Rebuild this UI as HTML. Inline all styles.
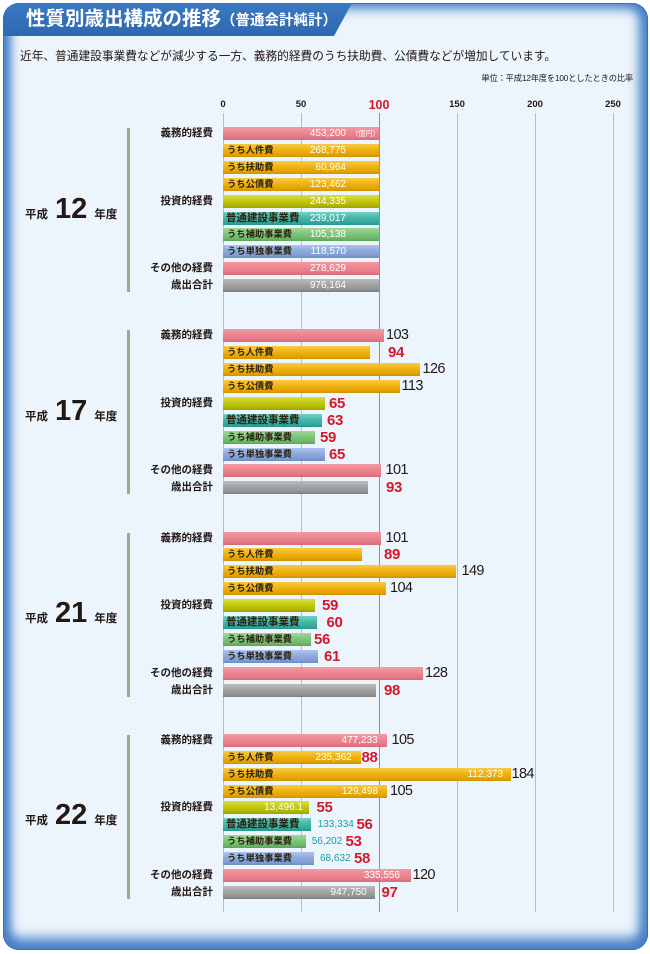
<!DOCTYPE html>
<html><head><meta charset="utf-8">
<style>
body{margin:0;width:650px;height:954px;background:#fff;position:relative;overflow:hidden;font-family:"Liberation Sans","Noto Sans CJK JP",sans-serif;}
.frame{position:absolute;left:3px;top:3px;width:645px;height:947px;border-radius:16px;background:#edf5fc;overflow:hidden;
box-shadow:inset 0 0 0 1px #3a6fb8, inset 11px 0 10px -3px #4a81c8, inset -12px 0 11px -3px #4a81c8, inset 0 -16px 13px -4px #4a81c8, inset 0 10px 12px -4px #5a8ccd;}
.tab{position:absolute;left:0;top:0;width:360px;height:33px;background:linear-gradient(#3b79c3,#2e68b0);clip-path:polygon(0 0,349px 0,331px 33px,0 33px);}
.title{position:absolute;left:26px;top:7px;line-height:24px;font-size:19.5px;font-weight:bold;color:#fff;white-space:nowrap}
.title span{font-size:14.5px}
.sub{position:absolute;left:20px;top:50px;line-height:14px;font-size:11.7px;color:#231815;white-space:nowrap}
.unit{position:absolute;right:17px;top:73px;line-height:10px;font-size:8.3px;color:#231815;white-space:nowrap;letter-spacing:-0.2px}
.ax{position:absolute;top:99px;width:40px;text-align:center;line-height:12px;font-size:9.5px;font-weight:bold;color:#231815}
.ax.red{font-size:12.5px;color:#d5182b}
.gl{position:absolute;top:113px;height:799px;width:1px;background:#b7bcc9}
.gr{position:absolute;top:113px;height:799px;width:1.5px;background:#d9707e;left:378.5px}
.G{position:absolute;left:0;width:650px;height:170px}
.r0{top:0}.r1{top:16.9px}.r2{top:33.8px}.r3{top:50.7px}.r4{top:67.6px}.r5{top:84.5px}.r6{top:101.4px}.r7{top:118.3px}.r8{top:135.2px}.r9{top:152.1px}
.b{position:absolute;left:223px;height:13px}
.p{background:linear-gradient(#f39aa5,#ec8591 45%,#e47885 80%,#d56b79)}
.o{background:linear-gradient(#f8ca45,#f0b212 45%,#e3a300 80%,#cf9200)}
.y{background:linear-gradient(#d9df45,#c3c810 45%,#b0b500 80%,#9ea200)}
.t{background:linear-gradient(#74d1c5,#45b6a8 45%,#35a89b 80%,#26958b)}
.g{background:linear-gradient(#a0d89a,#80c47b 45%,#6db769 80%,#5aa458)}
.u{background:linear-gradient(#adc4ec,#8eaadc 45%,#7f9dd2 80%,#6c8bc4)}
.k{background:linear-gradient(#bcbcbc,#a2a2a2 45%,#939393 80%,#7d7d7d)}
.ll{position:absolute;right:437px;line-height:13px;font-size:10.5px;font-weight:bold;color:#231815;white-space:nowrap}
.sl{position:absolute;left:227px;line-height:13px;font-size:9.3px;font-weight:bold;color:#2a2210;white-space:nowrap}
.sl.big{left:226px;font-size:10.5px}
.n{position:absolute;line-height:13px;font-size:14.5px;letter-spacing:-0.6px;color:#231815;white-space:nowrap}
.rd{position:absolute;line-height:13px;font-size:15px;font-weight:bold;letter-spacing:-0.4px;color:#d5182b;white-space:nowrap}
.w{position:absolute;line-height:13px;font-size:10px;color:#fff;text-align:right;white-space:nowrap}
.tv{position:absolute;line-height:13px;font-size:10px;color:#15a0a6;white-space:nowrap}
.bk{position:absolute;left:126.5px;width:3px;top:1px;height:164px;background:#a6a493}
.yr{position:absolute;left:25px;top:67.5px;display:flex;align-items:baseline;font-weight:bold;color:#231815;line-height:1;white-space:nowrap}
.yr .s{font-size:11.5px}
.yr .d{font-size:29px;margin:0 7px}
</style></head><body>
<div class="frame"><div class="tab"></div></div>
<div class="title">性質別歳出構成の推移<span>（普通会計純計）</span></div>
<div class="sub">近年、普通建設事業費などが減少する一方、義務的経費のうち扶助費、公債費などが増加しています。</div>
<div class="unit">単位：平成12年度を100としたときの比率</div>

<div class="ax" style="left:203px">0</div>
<div class="ax" style="left:281px">50</div>
<div class="ax red" style="left:359px">100</div>
<div class="ax" style="left:437px">150</div>
<div class="ax" style="left:515px">200</div>
<div class="ax" style="left:593px">250</div>

<div class="gl" style="left:222.5px"></div>
<div class="gl" style="left:300.5px"></div>
<div class="gl" style="left:456.5px"></div>
<div class="gl" style="left:534.5px"></div>
<div class="gl" style="left:612.5px"></div>
<div class="gr"></div>

<!-- Group H12 -->
<div class="G" style="top:127px">
<div class="bk"></div>
<div class="yr"><span class="s">平成</span><span class="d">12</span><span class="s">年度</span></div>
<div class="ll r0">義務的経費</div><div class="ll r4">投資的経費</div><div class="ll r8">その他の経費</div><div class="ll r9">歳出合計</div>
<div class="b p r0" style="width:156.3px"></div>
<div class="b o r1" style="width:156.3px"></div>
<div class="b o r2" style="width:156.3px"></div>
<div class="b o r3" style="width:156.3px"></div>
<div class="b y r4" style="width:156.3px"></div>
<div class="b t r5" style="width:156.3px"></div>
<div class="b g r6" style="width:156.3px"></div>
<div class="b u r7" style="width:156.3px"></div>
<div class="b p r8" style="width:156.3px"></div>
<div class="b k r9" style="width:156.3px"></div>
<div class="sl r1">うち人件費</div><div class="sl r2">うち扶助費</div><div class="sl r3">うち公債費</div>
<div class="sl big r5">普通建設事業費</div><div class="sl r6">うち補助事業費</div><div class="sl r7">うち単独事業費</div>
<div class="w r0" style="right:304px">453,200</div>
<div class="w r0" style="left:351px;font-size:7.2px">（億円）</div>
<div class="w r1" style="right:304px">268,775</div>
<div class="w r2" style="right:304px">60,964</div>
<div class="w r3" style="right:304px">123,462</div>
<div class="w r4" style="right:304px">244,335</div>
<div class="w r5" style="right:304px">239,017</div>
<div class="w r6" style="right:304px">105,138</div>
<div class="w r7" style="right:304px">118,570</div>
<div class="w r8" style="right:304px">278,629</div>
<div class="w r9" style="right:304px">976,164</div>
</div>

<!-- Group H17 -->
<div class="G" style="top:329.3px">
<div class="bk"></div>
<div class="yr"><span class="s">平成</span><span class="d">17</span><span class="s">年度</span></div>
<div class="ll r0">義務的経費</div><div class="ll r4">投資的経費</div><div class="ll r8">その他の経費</div><div class="ll r9">歳出合計</div>
<div class="b p r0" style="width:161px"></div>
<div class="b o r1" style="width:146.9px"></div>
<div class="b o r2" style="width:196.9px"></div>
<div class="b o r3" style="width:176.6px"></div>
<div class="b y r4" style="width:101.6px"></div>
<div class="b t r5" style="width:98.5px"></div>
<div class="b g r6" style="width:92.2px"></div>
<div class="b u r7" style="width:101.6px"></div>
<div class="b p r8" style="width:157.9px"></div>
<div class="b k r9" style="width:145.4px"></div>
<div class="sl r1">うち人件費</div><div class="sl r2">うち扶助費</div><div class="sl r3">うち公債費</div>
<div class="sl big r5">普通建設事業費</div><div class="sl r6">うち補助事業費</div><div class="sl r7">うち単独事業費</div>
<div class="n r0" style="left:386px">103</div>
<div class="rd r1" style="left:388px">94</div>
<div class="n r2" style="left:422.5px">126</div>
<div class="n r3" style="left:401.5px">113</div>
<div class="rd r4" style="left:329px">65</div>
<div class="rd r5" style="left:327px">63</div>
<div class="rd r6" style="left:320px">59</div>
<div class="rd r7" style="left:329px">65</div>
<div class="n r8" style="left:385.5px">101</div>
<div class="rd r9" style="left:386px">93</div>
</div>

<!-- Group H21 -->
<div class="G" style="top:531.6px">
<div class="bk"></div>
<div class="yr"><span class="s">平成</span><span class="d">21</span><span class="s">年度</span></div>
<div class="ll r0">義務的経費</div><div class="ll r4">投資的経費</div><div class="ll r8">その他の経費</div><div class="ll r9">歳出合計</div>
<div class="b p r0" style="width:157.9px"></div>
<div class="b o r1" style="width:139.1px"></div>
<div class="b o r2" style="width:232.9px"></div>
<div class="b o r3" style="width:162.6px"></div>
<div class="b y r4" style="width:92.2px"></div>
<div class="b t r5" style="width:93.8px"></div>
<div class="b g r6" style="width:87.5px"></div>
<div class="b u r7" style="width:95.3px"></div>
<div class="b p r8" style="width:200.1px"></div>
<div class="b k r9" style="width:153.2px"></div>
<div class="sl r1">うち人件費</div><div class="sl r2">うち扶助費</div><div class="sl r3">うち公債費</div>
<div class="sl big r5">普通建設事業費</div><div class="sl r6">うち補助事業費</div><div class="sl r7">うち単独事業費</div>
<div class="n r0" style="left:385.5px">101</div>
<div class="rd r1" style="left:384px">89</div>
<div class="n r2" style="left:461.5px">149</div>
<div class="n r3" style="left:390px">104</div>
<div class="rd r4" style="left:322px">59</div>
<div class="rd r5" style="left:326.5px">60</div>
<div class="rd r6" style="left:314px">56</div>
<div class="rd r7" style="left:324px">61</div>
<div class="n r8" style="left:425px">128</div>
<div class="rd r9" style="left:384px">98</div>
</div>

<!-- Group H22 -->
<div class="G" style="top:733.9px">
<div class="bk"></div>
<div class="yr"><span class="s">平成</span><span class="d">22</span><span class="s">年度</span></div>
<div class="ll r0">義務的経費</div><div class="ll r4">投資的経費</div><div class="ll r8">その他の経費</div><div class="ll r9">歳出合計</div>
<div class="b p r0" style="width:164.1px"></div>
<div class="b o r1" style="width:137.5px"></div>
<div class="b o r2" style="width:287.6px"></div>
<div class="b o r3" style="width:164.1px"></div>
<div class="b y r4" style="width:86px"></div>
<div class="b t r5" style="width:87.5px"></div>
<div class="b g r6" style="width:82.8px"></div>
<div class="b u r7" style="width:90.7px"></div>
<div class="b p r8" style="width:187.6px"></div>
<div class="b k r9" style="width:151.6px"></div>
<div class="sl r1">うち人件費</div><div class="sl r2">うち扶助費</div><div class="sl r3">うち公債費</div>
<div class="sl big r5">普通建設事業費</div><div class="sl r6">うち補助事業費</div><div class="sl r7">うち単独事業費</div>
<div class="w r0" style="right:272.3px">477,233</div>
<div class="w r1" style="right:298.3px">235,362</div>
<div class="w r2" style="right:147px">112,373</div>
<div class="w r3" style="right:272px">129,498</div>
<div class="w r4" style="right:347px">13,496.1</div>
<div class="tv r5" style="left:317.7px">133,334</div>
<div class="tv r6" style="left:311.7px">56,202</div>
<div class="tv r7" style="left:320px">68,632</div>
<div class="w r8" style="right:250px">335,556</div>
<div class="w r9" style="right:283.3px">947,750</div>
<div class="n r0" style="left:391.5px">105</div>
<div class="rd r1" style="left:361.5px">88</div>
<div class="n r2" style="left:511.5px">184</div>
<div class="n r3" style="left:390px">105</div>
<div class="rd r4" style="left:316.5px">55</div>
<div class="rd r5" style="left:356.5px">56</div>
<div class="rd r6" style="left:345.5px">53</div>
<div class="rd r7" style="left:354px">58</div>
<div class="n r8" style="left:412.5px">120</div>
<div class="rd r9" style="left:381.5px">97</div>
</div>
</body></html>
